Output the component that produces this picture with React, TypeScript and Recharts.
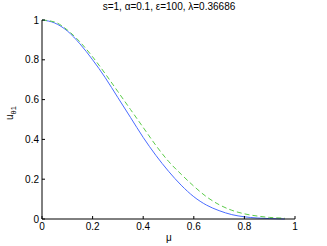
import React from "react";
import { LineChart, Line, XAxis, YAxis } from "recharts";

const muValues = [0, 0.05, 0.1, 0.15, 0.2, 0.25, 0.3, 0.35, 0.4, 0.45, 0.5, 0.55, 0.6, 0.65, 0.7, 0.75, 0.8, 0.85, 0.9, 0.96];
const solidSeries = [1.0, 0.985, 0.945, 0.88, 0.8, 0.71, 0.61, 0.51, 0.41, 0.32, 0.24, 0.17, 0.112, 0.07, 0.042, 0.022, 0.011, 0.005, 0.002, 0.0];
const dashedSeries = [1.0, 0.99, 0.95, 0.89, 0.815, 0.73, 0.64, 0.55, 0.46, 0.37, 0.29, 0.225, 0.165, 0.112, 0.072, 0.044, 0.026, 0.015, 0.008, 0.004];
const xTicks = [0, 0.2, 0.4, 0.6, 0.8, 1];
const yTicks = [0, 0.2, 0.4, 0.6, 0.8, 1];
const titleText = "s=1, \u03b1=0.1, \u03b5=100, \u03bb=0.36686";

const data = muValues.map((mu, i) => ({ mu, a: solidSeries[i], b: dashedSeries[i] }));

const FONT = "'Liberation Sans', Arial, sans-serif";
const TL = 3;

const BottomTick = (p: any) => (
  <g>
    <line x1={p.x} y1={p.y} x2={p.x} y2={p.y - TL} stroke="#000" />
    <text x={p.x} y={p.y + 11} textAnchor="middle" fontSize={10} fontFamily={FONT} fill="#000">
      {String(p.payload.value)}
    </text>
  </g>
);
const TopTick = (p: any) => (
  <line x1={p.x} y1={p.y} x2={p.x} y2={p.y + TL} stroke="#000" />
);
const LeftTick = (p: any) => (
  <g>
    <line x1={p.x} y1={p.y} x2={p.x + TL} y2={p.y} stroke="#000" />
    <text x={p.x - 3} y={p.y + 3.5} textAnchor="end" fontSize={10} fontFamily={FONT} fill="#000">
      {String(p.payload.value)}
    </text>
  </g>
);
const RightTick = (p: any) => (
  <line x1={p.x} y1={p.y} x2={p.x - TL} y2={p.y} stroke="#000" />
);

export default function App() {
  return (
    <div style={{ position: "absolute", left: 0, top: 0, background: "#fff" }}>
      <LineChart width={327} height={246} data={data} margin={{ top: 20, right: 32, bottom: 0, left: 0 }}>
        <XAxis dataKey="mu" type="number" domain={[0, 1]} ticks={xTicks} interval={0} height={27}
          tickSize={0} tickMargin={0} tickLine={false} tick={BottomTick} axisLine={{ stroke: "#000" }} />
        <XAxis xAxisId="top" orientation="top" dataKey="mu" type="number" domain={[0, 1]} ticks={xTicks} interval={0} height={0}
          tickSize={0} tickMargin={0} tickLine={false} tick={TopTick} axisLine={{ stroke: "#000" }} />
        <YAxis type="number" domain={[0, 1]} ticks={yTicks} interval={0} width={42}
          tickSize={0} tickMargin={0} tickLine={false} tick={LeftTick} axisLine={{ stroke: "#000" }} />
        <YAxis yAxisId="right" orientation="right" type="number" domain={[0, 1]} ticks={yTicks} interval={0} width={0}
          tickSize={0} tickMargin={0} tickLine={false} tick={RightTick} axisLine={{ stroke: "#000" }} />
        <Line dataKey="a" type="monotone" stroke="#4a6cff" strokeWidth={1} dot={false} isAnimationActive={false} />
        <Line dataKey="b" type="monotone" stroke="#5ccc4a" strokeWidth={1} strokeDasharray="5 3" dot={false} isAnimationActive={false} />
        <text x={169} y={10} textAnchor="middle" fontSize={10} fontFamily={FONT} fill="#000">{titleText}</text>
        <text x={169} y={241} textAnchor="middle" fontSize={10} fontFamily={FONT} fill="#000">{"\u03bc"}</text>
        <text x={13} y={113} transform="rotate(-90, 13, 113)" textAnchor="middle" fontSize={10} fontFamily={FONT} fill="#000">
          u<tspan fontSize={7.5} dy={3}>{"\u03b81"}</tspan>
        </text>
      </LineChart>
    </div>
  );
}
